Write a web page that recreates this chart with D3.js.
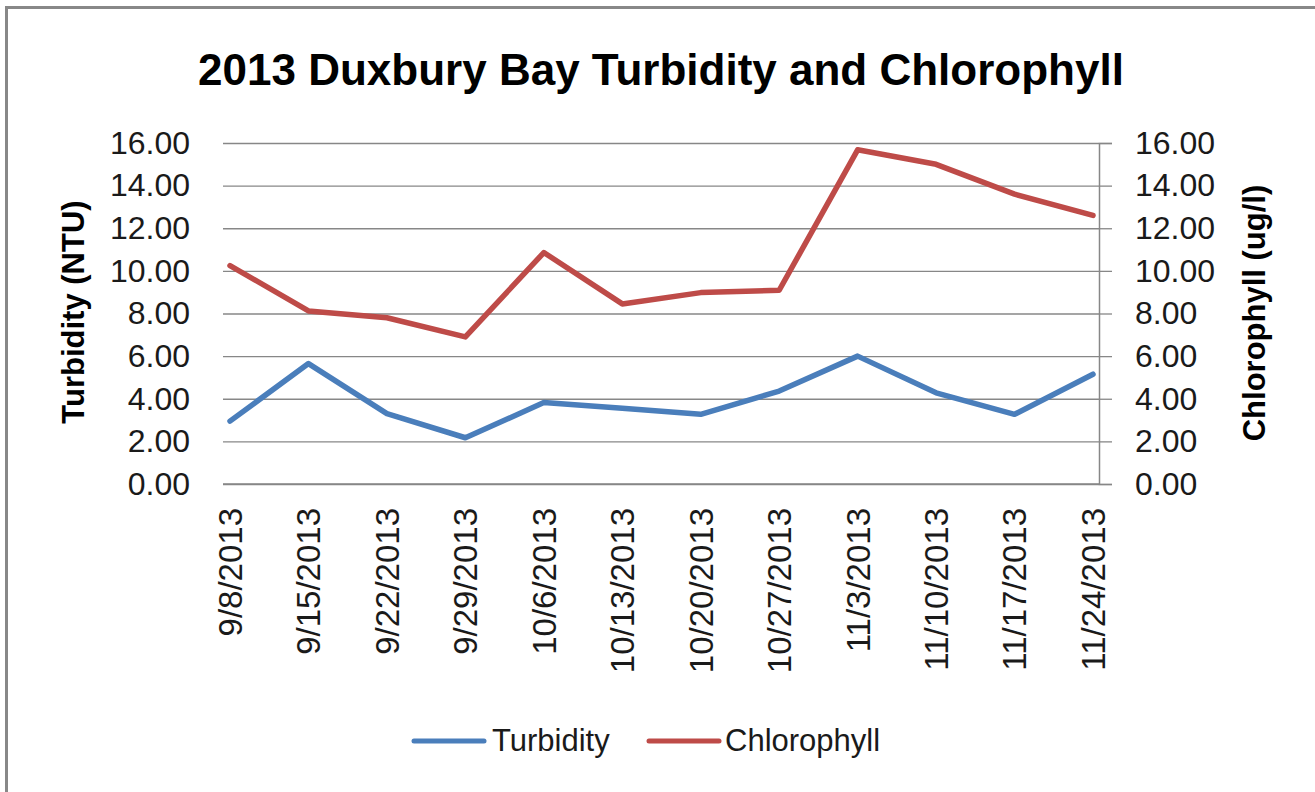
<!DOCTYPE html>
<html>
<head>
<meta charset="utf-8">
<script src="https://cdn.jsdelivr.net/npm/d3@7/dist/d3.min.js"></script>
<style>
  html, body { margin: 0; padding: 0; background: #fff; }
  svg { display: block; font-family: "Liberation Sans", Arial, sans-serif; }
</style>
</head>
<body>
<svg id="chart" width="1315" height="792"></svg>
<script>
// ---- data ----
const dates = ["9/8/2013","9/15/2013","9/22/2013","9/29/2013","10/6/2013","10/13/2013",
               "10/20/2013","10/27/2013","11/3/2013","11/10/2013","11/17/2013","11/24/2013"];
const turbidity   = [2.95, 5.65, 3.3, 2.17, 3.82, 3.55, 3.27, 4.36, 6.0, 4.28, 3.27, 5.15];
const chlorophyll = [10.25, 8.12, 7.8, 6.9, 10.86, 8.45, 8.98, 9.09, 15.68, 15.0, 13.6, 12.6];
const yTicks = [0, 2, 4, 6, 8, 10, 12, 14, 16];
const seriesNames = ["Turbidity", "Chlorophyll"];
const seriesColors = ["#4A7EBB", "#BE4B48"];
const title = "2013 Duxbury Bay Turbidity and Chlorophyll";
const leftTitle = "Turbidity (NTU)";
const rightTitle = "Chlorophyll (ug/l)";

// ---- layout ----
const svg = d3.select("#chart");
const plot = { left: 223, right: 1099, top: 143, bottom: 484 };

// outer border
svg.append("rect")
  .attr("x", 6.5).attr("y", 7.5).attr("width", 1320).attr("height", 800)
  .attr("fill", "#fff").attr("stroke", "#888").attr("stroke-width", 3);

const x = d3.scalePoint().domain(dates).range([230, 1093]);
const yL = d3.scaleLinear().domain([0, 16]).range([plot.bottom, plot.top]);
const yR = d3.scaleLinear().domain([0, 16]).range([plot.bottom, plot.top]);

// gridlines
svg.append("g")
  .attr("transform", `translate(${plot.left},0)`)
  .call(d3.axisLeft(yL).tickValues(yTicks).tickSize(-(plot.right - plot.left)).tickFormat(""))
  .call(g => g.select(".domain").remove())
  .call(g => g.selectAll("line").attr("stroke", "#878787").attr("stroke-width", 1.3));

// left axis labels
svg.append("g")
  .attr("transform", `translate(${plot.left},0)`)
  .call(d3.axisLeft(yL).tickValues(yTicks).tickSize(0).tickPadding(33).tickFormat(d3.format(".2f")))
  .call(g => g.select(".domain").remove())
  .call(g => g.selectAll("text").attr("font-size", 32).attr("fill", "#1a1a1a")
        .attr("font-family", "'Liberation Sans', Arial, sans-serif"));

// right axis
svg.append("g")
  .attr("transform", `translate(${plot.right},0)`)
  .call(d3.axisRight(yR).tickValues(yTicks).tickSize(13).tickPadding(23).tickFormat(d3.format(".2f")))
  .call(g => g.select(".domain").attr("stroke", "#878787").attr("stroke-width", 1.5))
  .call(g => g.selectAll("line").attr("stroke", "#878787").attr("stroke-width", 1.3))
  .call(g => g.selectAll("text").attr("font-size", 32).attr("fill", "#1a1a1a")
        .attr("font-family", "'Liberation Sans', Arial, sans-serif"));

// bottom axis line + labels
svg.append("line")
  .attr("x1", plot.left).attr("x2", plot.right)
  .attr("y1", plot.bottom).attr("y2", plot.bottom)
  .attr("stroke", "#878787").attr("stroke-width", 1.5);

svg.append("g").selectAll("text").data(dates).join("text")
  .attr("transform", d => `translate(${x(d)},508) rotate(-90)`)
  .attr("text-anchor", "end")
  .attr("dy", "0.36em")
  .attr("font-size", 33)
  .attr("fill", "#1a1a1a")
  .text(d => d);

// lines
const seriesData = [turbidity, chlorophyll];
const scales = [yL, yR];
seriesData.forEach((vals, i) => {
  const line = d3.line().x((d, j) => x(dates[j])).y(d => scales[i](d));
  svg.append("path")
    .datum(vals)
    .attr("d", line)
    .attr("fill", "none")
    .attr("stroke", seriesColors[i])
    .attr("stroke-width", 5.5)
    .attr("stroke-linejoin", "round")
    .attr("stroke-linecap", "round");
});

// title
svg.append("text")
  .attr("x", 661).attr("y", 85)
  .attr("text-anchor", "middle")
  .attr("font-size", 44).attr("font-weight", "bold").attr("fill", "#000")
  .text(title);

// axis titles
svg.append("text")
  .attr("transform", "translate(84,312) rotate(-90)")
  .attr("text-anchor", "middle")
  .attr("font-size", 31).attr("font-weight", "bold").attr("fill", "#000")
  .text(leftTitle);

svg.append("text")
  .attr("transform", "translate(1265,313) rotate(-90)")
  .attr("text-anchor", "middle")
  .attr("font-size", 31).attr("font-weight", "bold").attr("fill", "#000")
  .text(rightTitle);

// legend
const legendItems = [
  { name: seriesNames[0], color: seriesColors[0], x1: 414, x2: 484, tx: 492 },
  { name: seriesNames[1], color: seriesColors[1], x1: 649, x2: 719, tx: 725 }
];
const lg = svg.append("g");
legendItems.forEach(it => {
  lg.append("line")
    .attr("x1", it.x1).attr("x2", it.x2).attr("y1", 741).attr("y2", 741)
    .attr("stroke", it.color).attr("stroke-width", 5).attr("stroke-linecap", "round");
  lg.append("text")
    .attr("x", it.tx).attr("y", 751)
    .attr("font-size", 31).attr("fill", "#1a1a1a")
    .text(it.name);
});
</script>
</body>
</html>
